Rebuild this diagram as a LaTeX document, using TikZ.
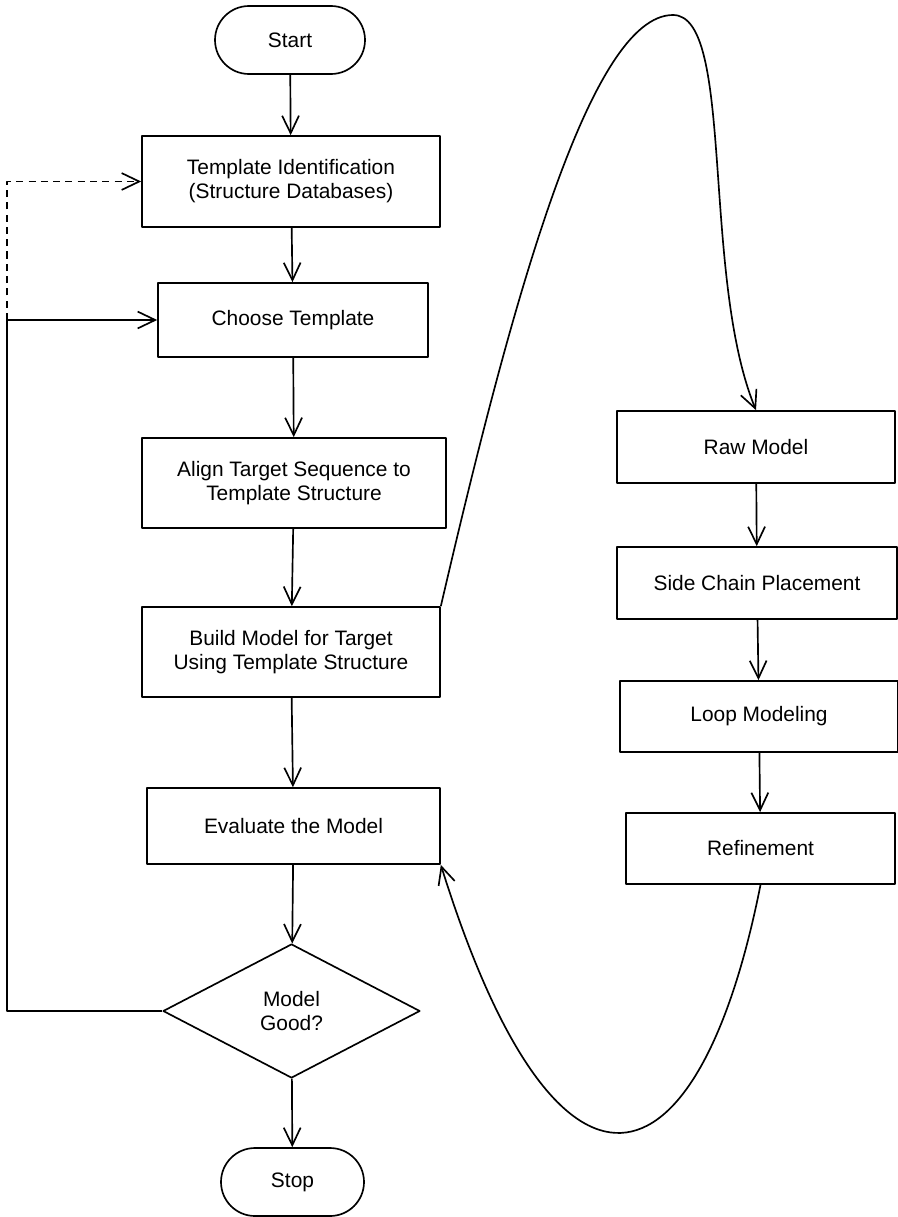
\documentclass[tikz,border=0pt]{standalone}
\usepackage{fontspec}
\setmainfont{Liberation Sans}
\usetikzlibrary{arrows.meta,shapes.geometric,shapes.misc}
\def\px{0.02cm}
\begin{document}
\begin{tikzpicture}[x=\px,y=-\px,line join=round,line width=0.95pt,>={Straight Barb[length=10pt,width=9.6pt]},font=\fontsize{11.9}{13.6}\selectfont,
	box/.style 2 args={draw,align=center,inner sep=0pt,minimum width=#1*\px,minimum height=#2*\px},
	term/.style={draw,rounded rectangle,inner sep=0pt,minimum width=#1*\px,minimum height=68*\px}]
	\useasboundingbox (0,0) rectangle (898,1217);
	% main column
	\node[term=150] (start) at (290,40) {Start};
	\node[box={298}{91}] (tid) at (291,181.5) {Template Identification\\(Structure Databases)};
	\node[box={270}{74}] (choose) at (293,320) {Choose Template};
	\node[box={304}{90}] (align) at (294,483) {Align Target Sequence to\\Template Structure};
	\node[box={298}{90}] (build) at (291,652) {Build Model for Target\\Using Template Structure};
	\node[box={293}{76}] (eval) at (293.5,826) {Evaluate the Model};
	\node[draw,diamond,align=center,inner sep=0pt,minimum width=257*\px,minimum height=134*\px] (good) at (291.5,1011) {Model\\Good?};
	\node[term=143] (stop) at (292.5,1182) {Stop};
	% right column
	\node[box={278}{72}] (raw) at (756,447) {Raw Model};
	\node[box={280}{72}] (side) at (757,583) {Side Chain Placement};
	\node[box={278}{71}] (loopm) at (759,716.5) {Loop Modeling};
	\node[box={269}{71}] (refine) at (760.5,848.5) {Refinement};
	\foreach \a/\b in {start/tid,tid/choose,choose/align,align/build,build/eval,eval/good,good/stop,raw/side,side/loopm,loopm/refine}
		\draw[->] (\a) -- (\b);
	% feedback
	\draw[->] (good.west) -- ++(-155,0) coordinate (corner) |- (choose.west);
	\draw[->,dash pattern=on 4pt off 3pt] (corner |- choose.west) |- (tid.west);
	\draw[->] (build.north east) .. controls (512,300) and (590,15) .. (673,15) .. controls (735,15) and (701,276) .. (raw.north);
	\draw[->] (refine.south) .. controls (698,1200) and (557,1237) .. (eval.south east);
\end{tikzpicture}
\end{document}
